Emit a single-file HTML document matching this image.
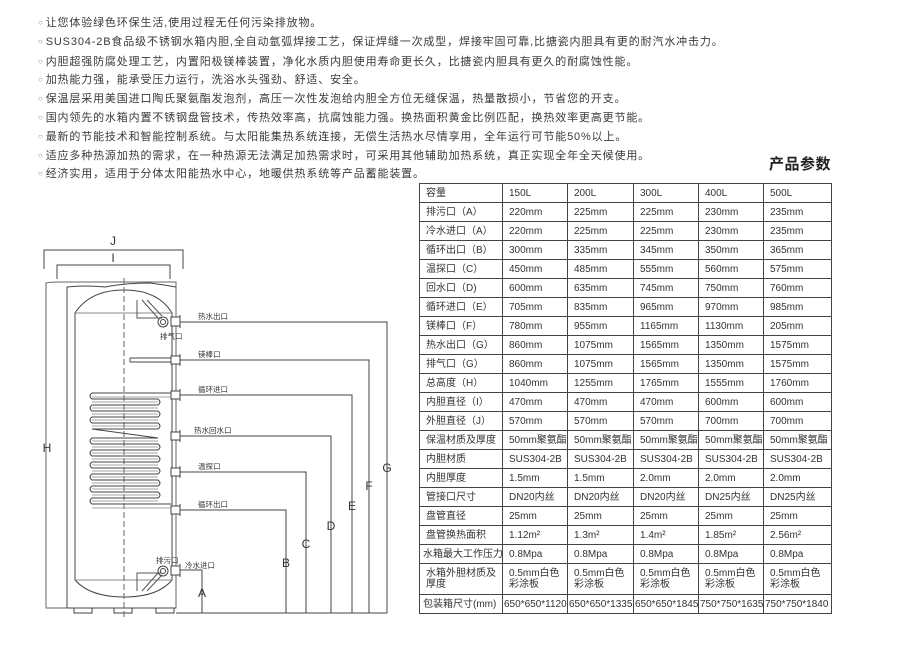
<!DOCTYPE html>
<html><head><meta charset="utf-8">
<style>
body{margin:0;width:900px;height:652px;background:#fff;position:relative;overflow:hidden;font-family:"Liberation Sans","Noto Sans CJK SC",sans-serif;color:#333}
.l{position:absolute;left:38px;font-size:11px;letter-spacing:0.85px;white-space:nowrap;line-height:14px;color:#3a3a3a}
.l:before{content:"○";font-size:8px;color:#888;margin-right:2px;position:relative;top:-1px}
.t{position:absolute;left:769px;top:153px;font-size:15px;font-weight:bold;color:#222;letter-spacing:0.5px}
table{position:absolute;left:419px;top:183px;border-collapse:collapse;font-size:10px;color:#333;table-layout:fixed;width:412px}
td{border:1px solid #444;height:18px;padding:0 0 0 6px;white-space:nowrap;line-height:11px;overflow:hidden}
tr.d td{height:30px}
svg{position:absolute;left:0;top:0}
</style></head><body>
<div class="l" style="top:16px">让您体验绿色环保生活,使用过程无任何污染排放物。</div>
<div class="l" style="top:35px">SUS304-2B食品级不锈钢水箱内胆,全自动氩弧焊接工艺，保证焊缝一次成型，焊接牢固可靠,比搪瓷内胆具有更的耐汽水冲击力。</div>
<div class="l" style="top:55px">内胆超强防腐处理工艺，内置阳极镁棒装置，净化水质内胆使用寿命更长久，比搪瓷内胆具有更久的耐腐蚀性能。</div>
<div class="l" style="top:73px">加热能力强，能承受压力运行，洗浴水头强劲、舒适、安全。</div>
<div class="l" style="top:92px">保温层采用美国进口陶氏聚氨酯发泡剂，高压一次性发泡给内胆全方位无缝保温，热量散损小，节省您的开支。</div>
<div class="l" style="top:111px">国内领先的水箱内置不锈钢盘管技术，传热效率高，抗腐蚀能力强。换热面积黄金比例匹配，换热效率更高更节能。</div>
<div class="l" style="top:130px">最新的节能技术和智能控制系统。与太阳能集热系统连接，无偿生活热水尽情享用，全年运行可节能50%以上。</div>
<div class="l" style="top:149px">适应多种热源加热的需求，在一种热源无法满足加热需求时，可采用其他辅助加热系统，真正实现全年全天候使用。</div>
<div class="l" style="top:167px">经济实用，适用于分体太阳能热水中心，地暖供热系统等产品蓄能装置。</div>
<div class="t">产品参数</div>
<table>
<colgroup><col style="width:83px"><col style="width:65px"><col style="width:66px"><col style="width:65px"><col style="width:65px"><col style="width:68px"></colgroup>
<tr><td>容量</td><td>150L</td><td>200L</td><td>300L</td><td>400L</td><td>500L</td></tr>
<tr><td>排污口（A）</td><td>220mm</td><td>225mm</td><td>225mm</td><td>230mm</td><td>235mm</td></tr>
<tr><td>冷水进口（A）</td><td>220mm</td><td>225mm</td><td>225mm</td><td>230mm</td><td>235mm</td></tr>
<tr><td>循环出口（B）</td><td>300mm</td><td>335mm</td><td>345mm</td><td>350mm</td><td>365mm</td></tr>
<tr><td>温探口（C）</td><td>450mm</td><td>485mm</td><td>555mm</td><td>560mm</td><td>575mm</td></tr>
<tr><td>回水口（D)</td><td>600mm</td><td>635mm</td><td>745mm</td><td>750mm</td><td>760mm</td></tr>
<tr><td>循环进口（E）</td><td>705mm</td><td>835mm</td><td>965mm</td><td>970mm</td><td>985mm</td></tr>
<tr><td>镁棒口（F）</td><td>780mm</td><td>955mm</td><td>1165mm</td><td>1130mm</td><td>205mm</td></tr>
<tr><td>热水出口（G）</td><td>860mm</td><td>1075mm</td><td>1565mm</td><td>1350mm</td><td>1575mm</td></tr>
<tr><td>排气口（G）</td><td>860mm</td><td>1075mm</td><td>1565mm</td><td>1350mm</td><td>1575mm</td></tr>
<tr><td>总高度（H）</td><td>1040mm</td><td>1255mm</td><td>1765mm</td><td>1555mm</td><td>1760mm</td></tr>
<tr><td>内胆直径（I）</td><td>470mm</td><td>470mm</td><td>470mm</td><td>600mm</td><td>600mm</td></tr>
<tr><td>外胆直径（J）</td><td>570mm</td><td>570mm</td><td>570mm</td><td>700mm</td><td>700mm</td></tr>
<tr><td>保温材质及厚度</td><td>50mm聚氨酯</td><td>50mm聚氨酯</td><td>50mm聚氨酯</td><td>50mm聚氨酯</td><td>50mm聚氨酯</td></tr>
<tr><td>内胆材质</td><td>SUS304-2B</td><td>SUS304-2B</td><td>SUS304-2B</td><td>SUS304-2B</td><td>SUS304-2B</td></tr>
<tr><td>内胆厚度</td><td>1.5mm</td><td>1.5mm</td><td>2.0mm</td><td>2.0mm</td><td>2.0mm</td></tr>
<tr><td>管接口尺寸</td><td>DN20内丝</td><td>DN20内丝</td><td>DN20内丝</td><td>DN25内丝</td><td>DN25内丝</td></tr>
<tr><td>盘管直径</td><td>25mm</td><td>25mm</td><td>25mm</td><td>25mm</td><td>25mm</td></tr>
<tr><td>盘管换热面积</td><td>1.12m²</td><td>1.3m²</td><td>1.4m²</td><td>1.85m²</td><td>2.56m²</td></tr>
<tr><td style="padding-left:3px">水箱最大工作压力</td><td>0.8Mpa</td><td>0.8Mpa</td><td>0.8Mpa</td><td>0.8Mpa</td><td>0.8Mpa</td></tr>
<tr class="d"><td>水箱外胆材质及<br>厚度</td><td>0.5mm白色<br>彩涂板</td><td>0.5mm白色<br>彩涂板</td><td>0.5mm白色<br>彩涂板</td><td>0.5mm白色<br>彩涂板</td><td>0.5mm白色<br>彩涂板</td></tr>
<tr><td style="padding-left:3px">包装箱尺寸(mm)</td><td style="padding-left:1px">650*650*1120</td><td style="padding-left:1px">650*650*1335</td><td style="padding-left:1px">650*650*1845</td><td style="padding-left:1px">750*750*1635</td><td style="padding-left:1px">750*750*1840</td></tr>
</table>
<svg width="900" height="652" viewBox="0 0 900 652" font-family="Liberation Sans, Noto Sans CJK SC, sans-serif">
<g fill="none" stroke="#444" stroke-width="1">
<path d="M44 269V250H183V269"/>
<path d="M57 279V265H170V279"/>
<path d="M46 608V283Q50 282 60 282H176V608Z" stroke="#666"/>
<path d="M67 608V287Q85 285 105 287Q125 283 150 283Q165 285 176 287"/>
<path d="M67 608H176"/>
<path d="M75 313Q90 290 124 290Q158 290 172 313V580Q158 597 124 597Q90 597 75 580Z"/>
<path d="M75 313H172M75 580H172" stroke="#888"/>
<path d="M74 608V613H92V608M114 608V613H132V608M156 608V613H174V608"/>
<path d="M124 278V617" stroke-dasharray="6,3" stroke="#666"/>
<path d="M137 300V318H162M142 300L158 318M147 300L162 316" stroke="#555"/>
<circle cx="163" cy="322" r="5"/><circle cx="163" cy="322" r="2.5"/>
<path d="M137 591V573H162M142 591L158 573M147 591L162 575" stroke="#555"/>
<circle cx="163" cy="571" r="5"/><circle cx="163" cy="571" r="2.5"/>
<g fill="#fff">
<rect x="171" y="317" width="9" height="9"/><rect x="171" y="356" width="9" height="8"/><rect x="171" y="391" width="9" height="8"/>
<rect x="171" y="432" width="9" height="8"/><rect x="171" y="468" width="9" height="8"/><rect x="171" y="506" width="9" height="8"/><rect x="171" y="566" width="9" height="9"/>
</g>
<path d="M180 315V328M180 354V366M180 389V401M180 430V442M180 466V478M180 504V516M180 564V577"/>
<path d="M130 358H171M130 362H171M130 358V362"/>
<path d="M171 393H92Q88 396 92 399H158Q162 402 158 405H92Q88 408 92 411H158Q162 414 158 417H92Q88 420 92 423H158Q162 426 158 429H92M92 429L158 438H92Q88 441 92 444H158Q162 447 158 450H92Q88 453 92 456H158Q162 459 158 462H92Q88 465 92 468H158Q162 471 158 474H92Q88 477 92 480H158Q162 483 158 486H92Q88 489 92 492H158Q162 495 158 498H92Q88 501 92 504H171"/>
<path d="M171 397H92M92 402H158M92 408H158M92 414H158M92 420H158M92 426H158M92 441H158M92 447H158M92 453H158M92 459H158M92 465H158M92 471H158M92 477H158M92 483H158M92 489H158M92 495H158M92 501H158M92 508H171" stroke="#888" stroke-width="0.7"/>
<path d="M180 322H387V613M180 360H369V613M180 395H352V613M180 436H331V613M180 472H306V613M180 510H286V613M180 570H202V613M176 613H387"/>
</g>
<g font-size="7.5" fill="#333">
<text x="198" y="319">热水出口</text>
<text x="160" y="339">排气口</text>
<text x="198" y="357">镁棒口</text>
<text x="198" y="392">循环进口</text>
<text x="194" y="433">热水回水口</text>
<text x="198" y="469">温探口</text>
<text x="198" y="507">循环出口</text>
<text x="156" y="563">排污口</text>
<text x="185" y="568">冷水进口</text>
</g>
<g font-size="12" fill="#333" text-anchor="middle">
<text x="113" y="245">J</text><text x="113" y="262">I</text>
<text x="47" y="452">H</text>
<text x="202" y="597">A</text><text x="286" y="567">B</text><text x="306" y="548">C</text>
<text x="331" y="530">D</text><text x="352" y="510">E</text><text x="369" y="490">F</text><text x="387" y="472">G</text>
</g>
</svg>
</body></html>
